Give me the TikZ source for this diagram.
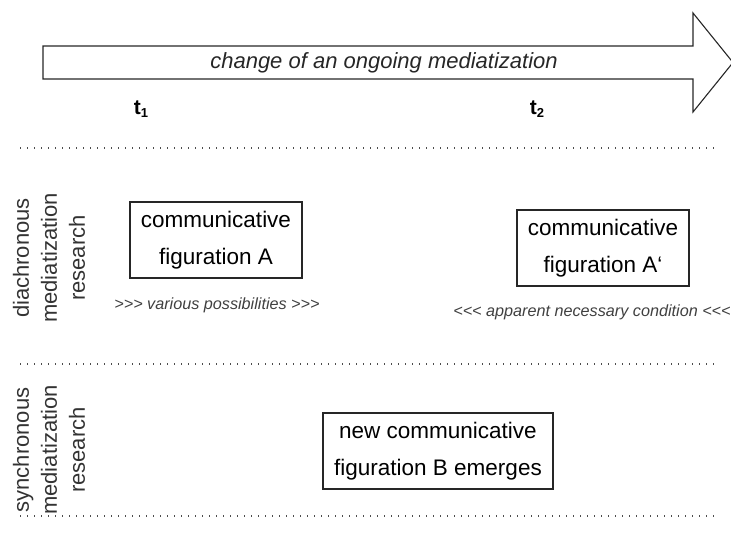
\documentclass[tikz,border=0pt]{standalone}
\usepackage{fontspec}
\setmainfont{Liberation Sans}
\usetikzlibrary{positioning}
\tikzset{
  fig/.style={rectangle, draw=black!85, line width=2pt, align=center,
    font=\fontsize{22.5}{37}\selectfont, inner xsep=11pt, inner ysep=9pt},
  side/.style={rotate=90, align=center, text=black!80,
    font=\fontsize{22}{28}\selectfont},
  note/.style={font=\fontsize{16.2}{18}\selectfont\itshape, text=black!75},
  tick/.style={font=\fontsize{21}{22}\selectfont\bfseries},
  sep/.style={draw=black!70, line width=1.6pt, dash pattern=on 1.4pt off 5.6pt},
}
\newcommand{\tsub}[1]{t\raisebox{-3pt}{\fontsize{13}{13}\selectfont #1}}

\begin{document}
\begin{tikzpicture}[x=1pt, y=-1pt]
\useasboundingbox (0,0) rectangle (731,534);
% time arrow
\draw[black!85, line width=1.1pt] (43,46) -- (693,46) -- (693,13) -- (733,62.5)
  -- (693,112) -- (693,79) -- (43,79) -- cycle;
\node[font=\fontsize{22}{24}\selectfont\itshape, text=black!85] (trend) at (384,63)
  {change of an ongoing mediatization};
\node[tick] (t1) at (141,109) {\tsub{1}};
\node[tick] (t2) at (537,109) {\tsub{2}};
% separators
\draw[sep] (20,148) -- (718,148);
\draw[sep] (20,364) -- (718,364);
\draw[sep] (20,516) -- (718,516);
% research rows
\node[side] (dia) at (49,258) {diachronous\\mediatization\\research};
\node[side] (syn) at (49,450) {synchronous\\mediatization\\research};
% figurations
\node[fig] (figA)  at (216,240) {communicative\\figuration A};
\node[fig] (figA2) at (603,248) {communicative\\figuration A‘};
\node[fig] (figB)  at (438,451) {new communicative\\figuration B emerges};
\node[note] (poss) at (217,305) {>{}>{}> various possibilities >{}>{}>};
\node[note] (cond) at (592,312) {<{}<{}< apparent necessary condition <{}<{}<};
\end{tikzpicture}
\end{document}
